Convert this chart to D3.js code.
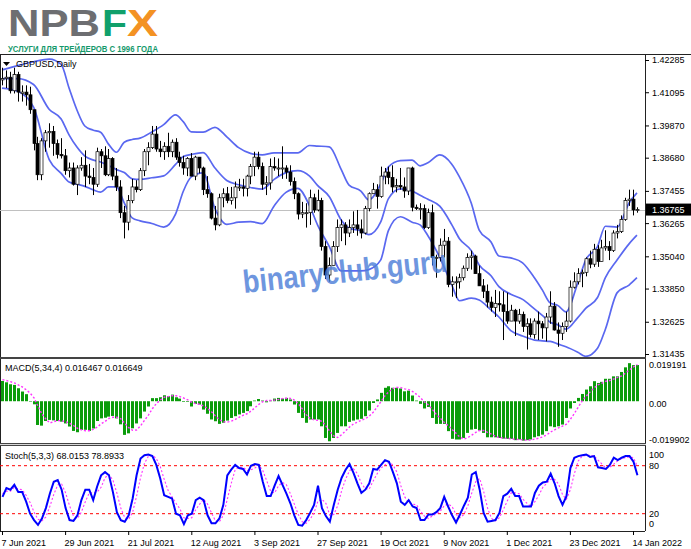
<!DOCTYPE html>
<html><head><meta charset="utf-8">
<script src="https://cdn.jsdelivr.net/npm/d3@7"></script>
<style>body{margin:0;background:#fff}svg{display:block}text{font-family:"Liberation Sans",Arial,sans-serif}</style>
</head><body><svg id="c" width="691" height="549"></svg>
<script>
// ---------- DATA ----------
const xLabelIdx = [0,16,32,48,64,80,96,112,128,144,160];
const xLabels = ["7 Jun 2021","29 Jun 2021","21 Jul 2021","12 Aug 2021","3 Sep 2021","27 Sep 2021","19 Oct 2021","9 Nov 2021","1 Dec 2021","23 Dec 2021","14 Jan 2022"];
const priceTicks = [1.42285,1.41095,1.39870,1.38680,1.37455,1.36265,1.35040,1.33850,1.32625,1.31435];
const lastPrice = 1.36765;

const open = [1.4155,1.4160,1.4165,1.4115,1.4175,1.4105,1.4110,1.4100,1.4045,1.3920,
1.3805,1.3930,1.3960,1.3965,1.3920,1.3880,1.3875,1.3820,1.3830,1.3770,
1.3830,1.3840,1.3800,1.3795,1.3770,1.3890,1.3875,1.3805,1.3865,1.3800,
1.3760,1.3665,1.3630,1.3710,1.3760,1.3750,1.3820,1.3890,1.3905,1.3955,
1.3900,1.3890,1.3910,1.3890,1.3925,1.3870,1.3850,1.3830,1.3865,1.3800,
1.3870,1.3830,1.3750,1.3735,1.3645,1.3620,1.3720,1.3735,1.3710,1.3720,
1.3760,1.3760,1.3755,1.3800,1.3835,1.3870,1.3835,1.3770,1.3775,1.3835,
1.3830,1.3830,1.3830,1.3815,1.3780,1.3735,1.3660,1.3665,1.3665,1.3720,
1.3675,1.3710,1.3540,1.3435,1.3470,1.3540,1.3610,1.3620,1.3590,1.3610,
1.3620,1.3605,1.3590,1.3680,1.3735,1.3750,1.3725,1.3800,1.3815,1.3795,
1.3760,1.3765,1.3760,1.3745,1.3830,1.3685,1.3680,1.3680,1.3610,1.3665,
1.3500,1.3500,1.3545,1.3560,1.3400,1.3410,1.3410,1.3425,1.3460,1.3500,
1.3505,1.3440,1.3395,1.3375,1.3335,1.3315,1.3330,1.3325,1.3300,1.3265,
1.3305,1.3265,1.3290,1.3245,1.3255,1.3215,1.3265,1.3255,1.3240,1.3280,
1.3320,1.3232,1.3220,1.3245,1.3265,1.3390,1.3410,1.3440,1.3445,1.3495,
1.3475,1.3530,1.3485,1.3535,1.3540,1.3525,1.3590,1.3595,1.3640,1.3710,
1.3715,1.3675];
const high = [1.4200,1.4190,1.4185,1.4200,1.4185,1.4135,1.4135,1.4130,1.4045,1.3945,
1.3940,1.3970,1.3995,1.3985,1.3935,1.3940,1.3900,1.3850,1.3850,1.3840,
1.3870,1.3895,1.3845,1.3830,1.3905,1.3900,1.3910,1.3900,1.3870,1.3830,
1.3785,1.3690,1.3730,1.3790,1.3785,1.3830,1.3900,1.3925,1.3985,1.3985,
1.3930,1.3925,1.3960,1.3935,1.3940,1.3890,1.3875,1.3870,1.3885,1.3875,
1.3870,1.3835,1.3800,1.3740,1.3690,1.3735,1.3755,1.3760,1.3760,1.3780,
1.3790,1.3790,1.3805,1.3845,1.3890,1.3890,1.3850,1.3800,1.3865,1.3870,
1.3865,1.3910,1.3840,1.3840,1.3795,1.3740,1.3705,1.3700,1.3750,1.3735,
1.3750,1.3720,1.3560,1.3500,1.3560,1.3640,1.3640,1.3630,1.3640,1.3670,
1.3675,1.3640,1.3690,1.3740,1.3775,1.3770,1.3835,1.3830,1.3835,1.3840,
1.3790,1.3830,1.3795,1.3830,1.3835,1.3695,1.3700,1.3695,1.3680,1.3695,
1.3510,1.3570,1.3605,1.3575,1.3430,1.3430,1.3440,1.3470,1.3515,1.3525,
1.3510,1.3470,1.3420,1.3400,1.3355,1.3380,1.3375,1.3375,1.3370,1.3325,
1.3310,1.3310,1.3300,1.3275,1.3275,1.3275,1.3300,1.3265,1.3295,1.3375,
1.3335,1.3260,1.3260,1.3300,1.3415,1.3445,1.3460,1.3455,1.3500,1.3525,
1.3550,1.3545,1.3565,1.3600,1.3560,1.3600,1.3620,1.3655,1.3720,1.3750,
1.3750,1.3685];
const low = [1.4135,1.4125,1.4105,1.4105,1.4075,1.4075,1.4060,1.4030,1.3895,1.3785,
1.3785,1.3890,1.3905,1.3875,1.3865,1.3865,1.3805,1.3795,1.3765,1.3730,
1.3820,1.3760,1.3770,1.3730,1.3760,1.3830,1.3800,1.3800,1.3785,1.3745,
1.3645,1.3570,1.3600,1.3700,1.3740,1.3745,1.3800,1.3840,1.3900,1.3890,
1.3870,1.3860,1.3870,1.3870,1.3860,1.3835,1.3805,1.3800,1.3800,1.3785,
1.3810,1.3730,1.3720,1.3640,1.3600,1.3615,1.3685,1.3700,1.3695,1.3680,
1.3745,1.3725,1.3725,1.3770,1.3800,1.3825,1.3750,1.3730,1.3750,1.3820,
1.3800,1.3790,1.3790,1.3765,1.3715,1.3640,1.3645,1.3610,1.3620,1.3665,
1.3670,1.3525,1.3420,1.3410,1.3470,1.3520,1.3560,1.3545,1.3575,1.3590,
1.3580,1.3570,1.3585,1.3670,1.3735,1.3680,1.3720,1.3770,1.3770,1.3740,
1.3740,1.3750,1.3720,1.3730,1.3670,1.3675,1.3640,1.3605,1.3605,1.3470,
1.3425,1.3485,1.3500,1.3390,1.3355,1.3350,1.3385,1.3415,1.3450,1.3455,
1.3440,1.3395,1.3350,1.3315,1.3300,1.3280,1.3300,1.3195,1.3255,1.3265,
1.3210,1.3255,1.3225,1.3160,1.3205,1.3200,1.3195,1.3200,1.3190,1.3255,
1.3230,1.3170,1.3195,1.3225,1.3260,1.3385,1.3400,1.3390,1.3430,1.3460,
1.3465,1.3465,1.3485,1.3525,1.3490,1.3520,1.3570,1.3590,1.3635,1.3690,
1.3655,1.3665];
const close = [1.4160,1.4165,1.4115,1.4175,1.4110,1.4110,1.4100,1.4045,1.3920,1.3805,
1.3930,1.3960,1.3965,1.3920,1.3880,1.3875,1.3820,1.3830,1.3770,1.3830,
1.3840,1.3800,1.3795,1.3770,1.3890,1.3875,1.3805,1.3865,1.3800,1.3760,
1.3665,1.3630,1.3710,1.3760,1.3750,1.3820,1.3890,1.3905,1.3955,1.3900,
1.3890,1.3910,1.3890,1.3925,1.3870,1.3850,1.3830,1.3865,1.3800,1.3870,
1.3830,1.3750,1.3735,1.3645,1.3620,1.3720,1.3735,1.3710,1.3720,1.3760,
1.3760,1.3755,1.3800,1.3835,1.3870,1.3835,1.3770,1.3775,1.3835,1.3830,
1.3830,1.3830,1.3815,1.3780,1.3735,1.3660,1.3665,1.3665,1.3720,1.3675,
1.3710,1.3540,1.3435,1.3470,1.3540,1.3610,1.3620,1.3590,1.3610,1.3620,
1.3605,1.3590,1.3680,1.3735,1.3750,1.3725,1.3800,1.3815,1.3795,1.3760,
1.3765,1.3760,1.3745,1.3830,1.3685,1.3680,1.3680,1.3610,1.3665,1.3500,
1.3500,1.3545,1.3560,1.3400,1.3410,1.3410,1.3425,1.3460,1.3500,1.3505,
1.3440,1.3395,1.3375,1.3335,1.3315,1.3330,1.3325,1.3300,1.3265,1.3305,
1.3265,1.3290,1.3245,1.3255,1.3215,1.3265,1.3255,1.3240,1.3280,1.3320,
1.3232,1.3220,1.3245,1.3265,1.3390,1.3410,1.3440,1.3445,1.3495,1.3475,
1.3530,1.3485,1.3535,1.3540,1.3525,1.3590,1.3595,1.3640,1.3710,1.3715,
1.3675,1.36765];

// Bollinger Bands (20,2) read at selected bars
const bbIdx = [0,4,8,12,15,17,19,21,23,25,27,29,31,33,35,38,41,44,46,48,51,54,57,60,63,66,69,72,75,78,80,83,86,88,91,93,96,98,101,104,106,108,111,114,116,119,121,124,126,129,132,135,137,139,141,143,146,148,151,153,156,159,161];
const bbUpper = [1.4192,1.4208,1.4222,1.4232,1.4212,1.4125,1.4044,1.3985,1.3970,1.3962,1.3918,1.3888,1.3925,1.3935,1.3940,1.3963,1.3990,1.4026,1.4000,1.3963,1.3962,1.3980,1.3945,1.3905,1.3884,1.3878,1.3886,1.3886,1.3886,1.3913,1.3911,1.3908,1.3825,1.3767,1.3745,1.3712,1.3770,1.3834,1.3857,1.3859,1.3838,1.3849,1.3878,1.3845,1.3797,1.3700,1.3601,1.3557,1.3505,1.3498,1.3480,1.3425,1.3380,1.3332,1.3322,1.3299,1.3406,1.3490,1.3540,1.3615,1.3612,1.3701,1.3738];
const bbMid = [1.4160,1.4160,1.4138,1.4046,1.4011,1.3952,1.3907,1.3874,1.3860,1.3852,1.3839,1.3824,1.3813,1.3790,1.3788,1.3794,1.3801,1.3843,1.3872,1.3880,1.3887,1.3830,1.3784,1.3768,1.3758,1.3752,1.3788,1.3813,1.3820,1.3800,1.3766,1.3724,1.3638,1.3608,1.3598,1.3584,1.3630,1.3717,1.3753,1.3745,1.3729,1.3715,1.3689,1.3622,1.3569,1.3525,1.3472,1.3432,1.3392,1.3364,1.3345,1.3310,1.3286,1.3261,1.3251,1.3235,1.3278,1.3312,1.3352,1.3425,1.3491,1.3550,1.3582];
const bbLower = [1.4125,1.4113,1.4055,1.3860,1.3810,1.3778,1.3770,1.3762,1.3750,1.3741,1.3760,1.3760,1.3701,1.3646,1.3635,1.3625,1.3612,1.3660,1.3745,1.3797,1.3812,1.3680,1.3622,1.3630,1.3632,1.3625,1.3690,1.3740,1.3755,1.3690,1.3620,1.3540,1.3450,1.3450,1.3450,1.3455,1.3490,1.3600,1.3650,1.3630,1.3620,1.3580,1.3500,1.3400,1.3340,1.3350,1.3343,1.3306,1.3280,1.3230,1.3210,1.3195,1.3192,1.3190,1.3180,1.3170,1.3150,1.3135,1.3165,1.3235,1.3370,1.3398,1.3425];

// MACD(5,34,4)
const macdMain = [0.0092,0.0086,0.0077,0.0074,0.0059,0.0044,0.0032,0.0000,-0.0014,-0.0108,
-0.0111,-0.0090,-0.0085,-0.0087,-0.0090,-0.0093,-0.0101,-0.0115,-0.0135,-0.0141,
-0.0130,-0.0130,-0.0135,-0.0124,-0.0090,-0.0078,-0.0075,-0.0070,-0.0067,-0.0078,
-0.0105,-0.0153,-0.0146,-0.0123,-0.0101,-0.0078,-0.0047,-0.0024,0.0014,0.0014,
0.0018,0.0027,0.0023,0.0030,0.0018,0.0012,-0.0003,-0.0003,-0.0024,-0.0012,
-0.0015,-0.0038,-0.0057,-0.0083,-0.0091,-0.0103,-0.0098,-0.0088,-0.0076,-0.0068,
-0.0060,-0.0053,-0.0045,-0.0023,0.0003,0.0010,0.0003,-0.0005,0.0003,0.0012,
0.0015,0.0012,0.0015,0.0008,-0.0015,-0.0053,-0.0076,-0.0098,-0.0083,-0.0083,
-0.0083,-0.0114,-0.0167,-0.0182,-0.0167,-0.0144,-0.0114,-0.0114,-0.0094,-0.0088,
-0.0083,-0.0080,-0.0068,-0.0042,-0.0008,0.0008,0.0038,0.0061,0.0068,0.0061,
0.0061,0.0058,0.0045,0.0048,0.0026,0.0003,-0.0012,-0.0033,-0.0026,-0.0076,
-0.0103,-0.0103,-0.0103,-0.0136,-0.0171,-0.0174,-0.0174,-0.0167,-0.0144,-0.0129,
-0.0126,-0.0133,-0.0144,-0.0164,-0.0164,-0.0164,-0.0167,-0.0170,-0.0171,-0.0171,
-0.0177,-0.0174,-0.0179,-0.0177,-0.0174,-0.0164,-0.0159,-0.0152,-0.0136,-0.0114,
-0.0118,-0.0114,-0.0106,-0.0076,-0.0033,-0.0008,0.0015,0.0033,0.0053,0.0068,
0.0091,0.0083,0.0088,0.0102,0.0102,0.0113,0.0113,0.0133,0.0154,0.0173,
0.0164,0.016467];
const macdSignal = [0.0098,0.0094,0.0089,0.0083,0.0074,0.0065,0.0052,0.0037,0.0015,-0.0023,
-0.0058,-0.0081,-0.0099,-0.0093,-0.0088,-0.0089,-0.0093,-0.0100,-0.0111,-0.0123,
-0.0130,-0.0134,-0.0134,-0.0128,-0.0118,-0.0103,-0.0092,-0.0078,-0.0073,-0.0073,
-0.0080,-0.0101,-0.0120,-0.0132,-0.0131,-0.0112,-0.0087,-0.0063,-0.0034,-0.0011,
0.0005,0.0018,0.0021,0.0025,0.0025,0.0021,0.0014,0.0006,-0.0005,-0.0011,
-0.0014,-0.0022,-0.0033,-0.0048,-0.0067,-0.0084,-0.0094,-0.0095,-0.0091,-0.0083,
-0.0073,-0.0064,-0.0057,-0.0045,-0.0030,-0.0014,-0.0002,0.0003,0.0003,0.0005,
0.0008,0.0012,0.0014,0.0013,0.0005,-0.0011,-0.0034,-0.0061,-0.0078,-0.0085,
-0.0087,-0.0091,-0.0112,-0.0137,-0.0158,-0.0165,-0.0152,-0.0135,-0.0117,-0.0103,
-0.0095,-0.0086,-0.0080,-0.0068,-0.0050,-0.0026,-0.0001,0.0025,0.0044,0.0057,
0.0063,0.0062,0.0056,0.0053,0.0044,0.0031,0.0016,-0.0004,-0.0017,-0.0037,
-0.0060,-0.0077,-0.0096,-0.0111,-0.0128,-0.0146,-0.0164,-0.0172,-0.0165,-0.0154,
-0.0142,-0.0133,-0.0133,-0.0142,-0.0150,-0.0160,-0.0166,-0.0167,-0.0169,-0.0171,
-0.0173,-0.0174,-0.0176,-0.0177,-0.0176,-0.0172,-0.0168,-0.0162,-0.0153,-0.0140,
-0.0130,-0.0121,-0.0113,-0.0104,-0.0082,-0.0056,-0.0026,0.0002,0.0023,0.0042,
0.0061,0.0074,0.0082,0.0091,0.0094,0.0101,0.0108,0.0115,0.0128,0.0143,
0.0156,0.016649];
const macdTop = 0.019191, macdBottom = -0.019902;

// Stochastic(5,3,3)
const stochMain = [41,52,50,56,47,47,35,20,12,6,14,27,45,60,62,50,27,12,11,18,
37,50,50,37,54,68,72,68,47,22,12,10,18,39,68,89,93,94,92,81,
64,43,41,39,20,18,7,18,20,37,40,37,18,8,8,14,31,68,75,81,
77,76,69,80,82,81,60,42,42,55,67,56,45,33,18,6,5,12,21,31,
55,27,17,10,31,50,65,75,82,71,58,46,50,58,76,75,81,87,85,72,
58,35,31,37,29,27,12,12,19,19,22,27,41,29,18,9,19,30,40,69,
72,50,21,10,11,12,21,42,45,51,42,42,29,29,29,46,55,59,60,70,
58,42,31,42,77,90,92,93,94,91,92,78,77,76,81,90,87,90,92,92,
85,68.0153];
const stochSignal = [45,48,48,53,51,50,43,34,22,13,11,16,29,44,56,57,46,30,17,14,
22,35,46,46,47,53,65,69,62,46,27,15,13,22,42,65,83,92,93,89,
79,63,49,41,33,26,15,14,15,25,32,38,32,21,11,10,18,38,58,75,
78,78,74,75,77,81,74,61,48,46,55,59,56,45,32,19,10,8,13,21,
36,38,33,18,19,30,49,63,74,76,70,58,51,51,61,70,77,81,84,81,
72,55,41,34,32,31,23,17,14,17,20,23,30,32,29,19,15,19,30,46,
60,64,48,27,14,11,15,25,36,46,46,45,38,33,29,35,43,53,58,63,
63,57,44,38,50,70,86,92,93,93,92,87,82,77,78,82,86,89,90,91,
90,78.8933];
const stochLevels = [80,20];
const stochLabels = [100,80,20,0];

// ---------- CHART ----------
const svg = d3.select("#c");
const PL = 0, PR = 645;
const mainTop = 55, mainBot = 357, macdT = 359, macdB = 443, stT = 446, stB = 531;

const x = d3.scaleLinear().domain([0,160]).range([2,633]);
const yP = d3.scaleLinear().domain([1.31435,1.42285]).range([354,60]);
const yM = d3.scaleLinear().domain([macdBottom, macdTop]).range([445,359]);
const yS = d3.scaleLinear().domain([0,100]).range([529.7,449.7]);

const defs = svg.append("defs");
defs.append("clipPath").attr("id","cm").append("rect").attr("x",PL).attr("y",mainTop).attr("width",PR-PL).attr("height",mainBot-mainTop);
defs.append("clipPath").attr("id","cmacd").append("rect").attr("x",PL).attr("y",macdT).attr("width",PR-PL).attr("height",macdB-macdT);
defs.append("clipPath").attr("id","cst").append("rect").attr("x",PL).attr("y",stT).attr("width",PR-PL).attr("height",stB-stT);

// Logo
const logo = svg.append("g");
logo.append("text").attr("x",8).attr("y",36).attr("font-size",37).attr("font-weight",900)
  .attr("fill","#6d6e71").attr("textLength",92).attr("lengthAdjust","spacingAndGlyphs").text("NPB");
logo.append("text").attr("x",102).attr("y",36).attr("font-size",37).attr("font-weight",900)
  .attr("fill","#10a06b").attr("textLength",25).attr("lengthAdjust","spacingAndGlyphs").text("F");
logo.append("text").attr("x",127).attr("y",36).attr("font-size",37).attr("font-weight",900)
  .attr("fill","#f39223").attr("textLength",31).attr("lengthAdjust","spacingAndGlyphs").text("X");
logo.append("text").attr("x",8).attr("y",51.5).attr("font-size",9.5).attr("font-weight",700)
  .attr("fill","#14996b").attr("textLength",150).attr("lengthAdjust","spacingAndGlyphs").text("УСЛУГИ ДЛЯ ТРЕЙДЕРОВ С 1996 ГОДА");

// Frames
const frame = svg.append("g").attr("stroke","#222").attr("fill","none");
frame.append("line").attr("x1",0).attr("x2",691).attr("y1",54.5).attr("y2",54.5);
frame.append("line").attr("x1",0.5).attr("x2",0.5).attr("y1",54).attr("y2",stB);
frame.append("line").attr("x1",PR+0.5).attr("x2",PR+0.5).attr("y1",54).attr("y2",stB);
frame.append("line").attr("x1",0).attr("x2",PR).attr("y1",stB+0.5).attr("y2",stB+0.5);
[[mainBot,macdT],[macdB,stT]].forEach(([a,b])=>{
  svg.append("rect").attr("x",0).attr("y",a).attr("width",PR+1).attr("height",b-a).attr("fill","#d8d8d8");
  svg.append("line").attr("x1",0).attr("x2",PR+1).attr("y1",a+0.5).attr("y2",a+0.5).attr("stroke","#444");
  svg.append("line").attr("x1",0).attr("x2",PR+1).attr("y1",b-0.5).attr("y2",b-0.5).attr("stroke","#444");
});

// ---- Main panel ----
const gm = svg.append("g").attr("clip-path","url(#cm)");
gm.append("line").attr("x1",PL).attr("x2",PR).attr("y1",Math.round(yP(lastPrice))+0.5).attr("y2",Math.round(yP(lastPrice))+0.5)
  .attr("stroke","#c0c0c0").attr("stroke-width",1);

const bandLine = (arr)=> d3.line().curve(d3.curveMonotoneX).x((d,k)=>x(bbIdx[k])).y(d=>yP(d))(arr);
[bbUpper,bbMid,bbLower].forEach(a=>{
  gm.append("path").attr("d",bandLine(a)).attr("fill","none").attr("stroke","#5a68f0").attr("stroke-width",1.7);
});

const bars = d3.range(open.length);
gm.append("g").selectAll("line").data(bars).join("line")
  .attr("x1",i=>Math.round(x(i))+0.5).attr("x2",i=>Math.round(x(i))+0.5)
  .attr("y1",i=>yP(high[i])).attr("y2",i=>yP(low[i])).attr("stroke","#000").attr("stroke-width",1);
gm.append("g").selectAll("rect").data(bars).join("rect")
  .attr("x",i=>Math.round(x(i))-1).attr("width",3)
  .attr("y",i=>yP(Math.max(open[i],close[i])))
  .attr("height",i=>Math.max(1,Math.abs(yP(open[i])-yP(close[i]))))
  .attr("fill",i=>close[i]>=open[i]?"#fff":"#000")
  .attr("stroke","#000").attr("stroke-width",0.7);

// watermark
svg.append("text").attr("transform","translate(244,293) rotate(-6)")
  .attr("font-family","DejaVu Sans, Verdana, sans-serif")
  .attr("font-size",32).attr("font-weight",700).attr("fill","#4f80d8").attr("opacity",0.82)
  .attr("textLength",205).attr("lengthAdjust","spacingAndGlyphs").text("binaryclub.guru");

// symbol label
svg.append("path").attr("d","M3,62 L10,62 L6.5,66 Z").attr("fill","#000");
svg.append("text").attr("x",16).attr("y",67).attr("font-size",9).attr("fill","#000").text("GBPUSD,Daily");

// price axis
const ax = svg.append("g").attr("transform",`translate(${PR},0)`)
  .call(d3.axisRight(yP).tickValues(priceTicks).tickFormat(d3.format(".5f")).tickSize(4).tickSizeOuter(0));
ax.select(".domain").remove();
ax.selectAll("text").attr("font-size",9).attr("font-family","Liberation Sans, Arial").attr("x",7).attr("fill","#000");
ax.selectAll("line").attr("stroke","#000");
const lpY = yP(lastPrice);
svg.append("rect").attr("x",PR+1).attr("y",lpY-6).attr("width",45).attr("height",12).attr("fill","#000");
svg.append("text").attr("x",PR+7).attr("y",lpY+3.5).attr("font-size",9).attr("fill","#fff").text(d3.format(".5f")(lastPrice));

// ---- MACD panel ----
const gmac = svg.append("g").attr("clip-path","url(#cmacd)");
gmac.append("g").selectAll("rect").data(bars).join("rect")
  .attr("x",i=>Math.round(x(i))-1).attr("width",3)
  .attr("y",i=>Math.min(yM(0),yM(macdMain[i])))
  .attr("height",i=>Math.max(0.5,Math.abs(yM(macdMain[i])-yM(0))))
  .attr("fill","#0a9c0a");
gmac.append("path").attr("d",d3.line().x((d,i)=>x(i)+0.5).y(d=>yM(d))(macdSignal))
  .attr("fill","none").attr("stroke","#ff33ff").attr("stroke-width",1.4).attr("stroke-dasharray","2,2");
svg.append("text").attr("x",5).attr("y",371).attr("font-size",9).attr("fill","#000")
  .text(`MACD(5,34,4) ${macdMain[macdMain.length-1].toFixed(6)} ${macdSignal[macdSignal.length-1].toFixed(6)}`);
const macdLbl = [[macdTop,"0.019191",6],[0,"0.00",3],[macdBottom,"-0.019902",-5]];
macdLbl.forEach(([v,t,dy])=>{
  svg.append("text").attr("x",PR+4).attr("y",yM(v)+dy+3).attr("font-size",9).attr("fill","#000").text(t);
});

// ---- Stoch panel ----
const gst = svg.append("g").attr("clip-path","url(#cst)");
stochLevels.forEach(l=>{
  gst.append("line").attr("x1",PL).attr("x2",PR).attr("y1",yS(l)).attr("y2",yS(l))
    .attr("stroke","#ff0000").attr("stroke-width",1).attr("stroke-dasharray","3,3");
});
gst.append("path").attr("d",d3.line().x((d,i)=>x(i)+0.5).y(d=>yS(d))(stochSignal))
  .attr("fill","none").attr("stroke","#ff33ff").attr("stroke-width",1.1).attr("stroke-dasharray","2,2");
gst.append("path").attr("d",d3.line().x((d,i)=>x(i)+0.5).y(d=>yS(d))(stochMain))
  .attr("fill","none").attr("stroke","#0000ff").attr("stroke-width",2);
svg.append("text").attr("x",5).attr("y",459).attr("font-size",9).attr("fill","#000")
  .text(`Stoch(5,3,3) ${stochMain[stochMain.length-1].toFixed(4)} ${stochSignal[stochSignal.length-1].toFixed(4)}`);
const stOff = {100:8,80:3,20:3,0:-3};
stochLabels.forEach(v=>{
  svg.append("text").attr("x",PR+4).attr("y",yS(v)+stOff[v]).attr("font-size",9).attr("fill","#000").text(v);
});

// ---- X axis ----
const xa = svg.append("g").attr("transform",`translate(0,${stB})`)
  .call(d3.axisBottom(x).tickValues(xLabelIdx).tickFormat((d,k)=>xLabels[k]).tickSize(4).tickSizeOuter(0));
xa.select(".domain").remove();
xa.selectAll("line").attr("stroke","#000");
xa.selectAll("text").attr("font-size",9).attr("font-family","Liberation Sans, Arial").attr("text-anchor","start").attr("dx",-1).attr("y",9).attr("fill","#000");
</script></body></html>
